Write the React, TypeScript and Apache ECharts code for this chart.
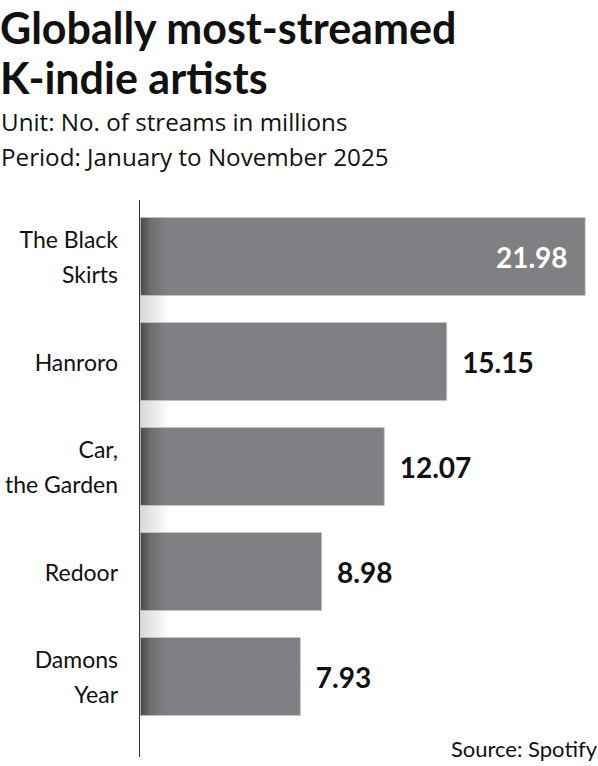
import React, { useEffect, useRef } from "react";
import * as echarts from "echarts";

const titleLines = ["Globally most-streamed", "K-indie artists"];
const subtitleLines = ["Unit: No. of streams in millions", "Period: January to November 2025"];
const sourceText = "Source: Spotify";
const artists = ["The Black\nSkirts", "Hanroro", "Car,\nthe Garden", "Redoor", "Damons\nYear"];
const streams = [21.98, 15.15, 12.07, 8.98, 7.93];

const FONT = "Lato";

export default function App() {
  const ref = useRef<HTMLDivElement>(null);
  useEffect(() => {
    const chart = echarts.init(ref.current!, null, { renderer: "svg" });
    const gridLeft = 140;
    const gridTop = 204;
    const gridW = 446;
    const gridH = 525;
    const maxV = Math.max(...streams);
    const data = streams.map((v) => {
      const inside = v === maxV;
      return {
        value: v,
        label: inside
          ? { position: "insideRight", distance: 18, color: "#ffffff", fontWeight: "bold" }
          : { position: "right", distance: 15, color: "#111111", fontWeight: "bold" },
      };
    });
    chart.setOption({
      animation: false,
      backgroundColor: "#ffffff",
      textStyle: { fontFamily: FONT },
      title: [
        {
          text: titleLines.join("\n"),
          left: 0,
          top: 2,
          padding: 0,
          textStyle: { fontFamily: FONT, fontSize: 43, fontWeight: "bold", color: "#111111", lineHeight: 50 },
        },
        {
          text: subtitleLines.join("\n"),
          left: 1,
          top: 104,
          padding: 0,
          textStyle: { fontFamily: "Open Sans", fontSize: 24.2, fontWeight: "normal", color: "#111111", lineHeight: 35 },
        },
        {
          text: sourceText,
          right: 1,
          top: 737,
          padding: 0,
          textStyle: { fontFamily: FONT, fontSize: 22, fontWeight: "normal", color: "#111111" },
        },
      ],
      grid: { left: gridLeft, top: gridTop, width: gridW, height: gridH, containLabel: false },
      xAxis: {
        type: "value",
        min: 0,
        max: 22,
        show: false,
      },
      yAxis: {
        type: "category",
        data: artists,
        inverse: true,
        axisLine: { show: false },
        axisTick: { show: false },
        axisLabel: {
          margin: 22,
          fontFamily: FONT,
          fontSize: 23,
          color: "#111111",
          lineHeight: 35,
          align: "right",
        },
      },
      graphic: [
        {
          type: "rect",
          z: 0,
          silent: true,
          shape: { x: gridLeft, y: 217, width: 30, height: 499 },
          style: {
            fill: {
              type: "linear",
              x: 0, y: 0, x2: 1, y2: 0,
              colorStops: [
                { offset: 0, color: "#d8d8d8" },
                { offset: 1, color: "#ffffff" },
              ],
            },
          },
        },
        {
          type: "line",
          z: 10,
          silent: true,
          shape: { x1: 139.5, y1: 200, x2: 139.5, y2: 757 },
          style: { stroke: "#333333", lineWidth: 1 },
        },
      ],
      series: [
        {
          type: "bar",
          data,
          barCategoryGap: "25%",
          itemStyle: {
            color: {
              type: "linear",
              x: gridLeft, y: 0, x2: gridLeft + 26, y2: 0,
              global: true,
              colorStops: [
                { offset: 0, color: "#4a4647" },
                { offset: 0.4, color: "#6e6c6f" },
                { offset: 1, color: "#808084" },
              ],
            },
            borderColor: "#c4c4c6",
            borderWidth: 0.8,
          },
          label: {
            show: true,
            fontFamily: FONT,
            fontSize: 28,
            formatter: (p: any) => Number(p.value).toFixed(2),
          },
        },
      ],
    });
    return () => chart.dispose();
  }, []);
  return (
    <div
      ref={ref}
      style={{ position: "fixed", left: 0, top: 0, width: 598, height: 766, background: "#fff" }}
    />
  );
}
